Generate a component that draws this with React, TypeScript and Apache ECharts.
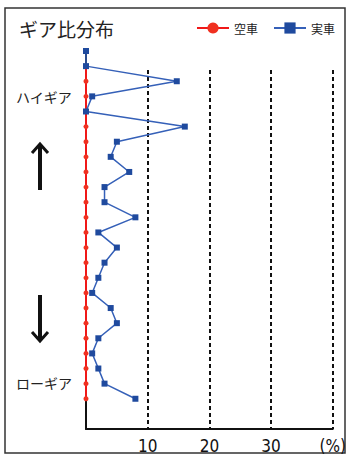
import React, { useEffect, useRef } from "react";
import * as echarts from "echarts";

// Gear positions from high gear (top) to low gear (bottom)
const gearPositions = Array.from({ length: 24 }, (_, i) => i);
// 空車 (empty) share per gear, %
const emptyShare: (number | null)[] = [
  null, 0, 0, 0, 0, 0, 0, 0, 0, 0, 0, 0, 0, 0, 0, 0, 0, 0, 0, 0, 0, 0, 0, 0,
];
// 実車 (loaded) share per gear, %
const loadedShare = [
  0, 0, 14.7, 1, 0, 16, 5, 4, 7, 3, 3, 8, 2, 5, 3, 2, 1, 4, 5, 2, 1, 2, 3, 8,
];
const xTicks = [10, 20, 30];
const xMax = 40;
const seriesNames = ["空車", "実車"];

const JP = '"Noto Sans CJK JP", sans-serif';
const NUM = '"Liberation Sans Narrow", "DejaVu Sans Condensed", "Liberation Sans", sans-serif';

export default function App() {
  const ref = useRef<HTMLDivElement>(null);
  useEffect(() => {
    document.body.style.margin = "0";
    const chart = echarts.init(ref.current!, null, { renderer: "svg" });
    const left = 86;
    const right = 16;
    const bottom = 25;
    chart.setOption({
      animation: false,
      backgroundColor: "#fff",
      title: {
        text: "ギア比分布",
        left: 14,
        top: 14,
        textStyle: { fontFamily: JP, fontSize: 19, fontWeight: "normal", color: "#222" },
      },
      legend: {
        right: 9,
        top: 17,
        itemWidth: 32,
        itemHeight: 14,
        itemGap: 15,
        data: seriesNames,
        textStyle: { fontFamily: JP, fontSize: 12, color: "#222" },
      },
      grid: [
        { left, right, top: 51, bottom },
        { left, right, top: 70, bottom },
      ],
      xAxis: [
        {
          type: "value",
          gridIndex: 0,
          min: 0,
          max: xMax,
          interval: 10,
          show: false,
        },
        {
          type: "value",
          gridIndex: 1,
          min: 0,
          max: xMax,
          interval: 10,
          axisLine: { show: true, lineStyle: { color: "#111", width: 2 } },
          axisTick: { show: false },
          axisLabel: {
            margin: 8,
            fontFamily: NUM,
            fontSize: 17,
            color: "#111",
            formatter: (v: number) =>
              v === xMax ? "(%)" : xTicks.includes(v) ? String(v) : "",
          },
          splitLine: {
            show: true,
            showMinLine: false,
            lineStyle: { color: "#111", type: [4, 3], width: 2 },
          },
        },
      ],
      yAxis: [
        {
          type: "value",
          gridIndex: 0,
          inverse: true,
          min: 0,
          max: 25,
          axisLine: { show: true, onZero: false, lineStyle: { color: "#111", width: 2 } },
          axisTick: { show: false },
          axisLabel: { show: false },
          splitLine: { show: false },
        },
        {
          type: "value",
          gridIndex: 1,
          show: false,
          min: 0,
          max: 1,
        },
      ],
      series: [
        {
          name: seriesNames[0],
          type: "line",
          xAxisIndex: 0,
          yAxisIndex: 0,
          data: emptyShare.map((v, i) => [v, gearPositions[i]]),
          color: "#f02020",
          lineStyle: { width: 2, color: "#f01818" },
          symbol: "circle",
          symbolSize: 5,
          itemStyle: { color: "#f03020" },
          z: 3,
        },
        {
          name: seriesNames[1],
          type: "line",
          xAxisIndex: 0,
          yAxisIndex: 0,
          data: loadedShare.map((v, i) => [v, gearPositions[i]]),
          color: "#2a55a8",
          lineStyle: { width: 1.5, color: "#3560b8" },
          symbol: "rect",
          symbolSize: 6,
          itemStyle: { color: "#1f4a9e" },
          z: 4,
        },
      ],
      graphic: [
        {
          type: "rect",
          shape: { x: 5, y: 8, width: 340, height: 445 },
          style: { fill: "none", stroke: "#333", lineWidth: 1.5 },
          silent: true,
        },
        {
          type: "text",
          x: 16,
          y: 97,
          style: {
            text: "ハイギア",
            fontFamily: JP,
            fontSize: 14,
            fill: "#222",
            verticalAlign: "middle",
          },
        },
        {
          type: "text",
          x: 16,
          y: 383,
          style: {
            text: "ローギア",
            fontFamily: JP,
            fontSize: 14,
            fill: "#222",
            verticalAlign: "middle",
          },
        },
        // up arrow
        {
          type: "line",
          shape: { x1: 40, y1: 190, x2: 40, y2: 146 },
          style: { stroke: "#111", lineWidth: 4 },
        },
        {
          type: "polyline",
          shape: { points: [[32, 153], [40, 144], [48, 153]] },
          style: { stroke: "#111", lineWidth: 3, fill: "none" },
        },
        // down arrow
        {
          type: "line",
          shape: { x1: 40, y1: 295, x2: 40, y2: 339 },
          style: { stroke: "#111", lineWidth: 4 },
        },
        {
          type: "polyline",
          shape: { points: [[32, 332], [40, 341], [48, 332]] },
          style: { stroke: "#111", lineWidth: 3, fill: "none" },
        },
      ],
    });
    return () => chart.dispose();
  }, []);
  return <div ref={ref} style={{ width: 349, height: 454 }} />;
}
